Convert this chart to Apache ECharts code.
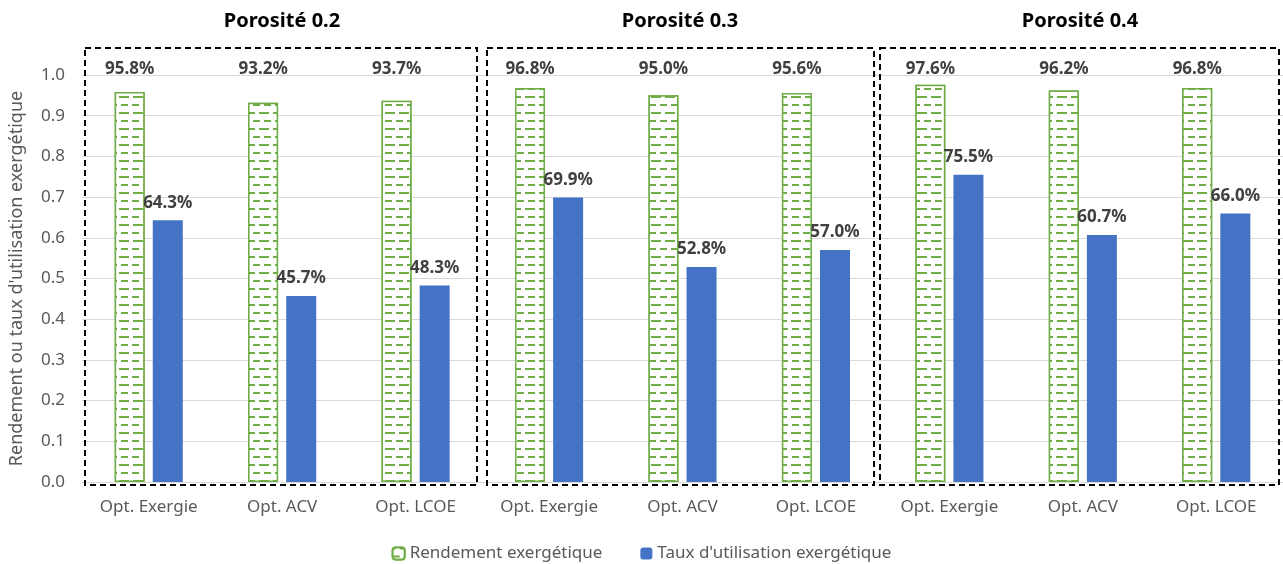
<!DOCTYPE html>
<html><head><meta charset="utf-8">
<script src="https://cdn.jsdelivr.net/npm/echarts@6/dist/echarts.min.js"></script>
<style>html,body{margin:0;padding:0;background:#fff}#c{width:1283px;height:564px}</style>
</head><body><div id="c"></div>
<script>
const categories = ['Opt. Exergie','Opt. ACV','Opt. LCOE','Opt. Exergie','Opt. ACV','Opt. LCOE','Opt. Exergie','Opt. ACV','Opt. LCOE'];
const rendement = [0.958,0.932,0.937,0.968,0.950,0.956,0.976,0.962,0.968];
const taux = [0.643,0.457,0.483,0.699,0.528,0.570,0.755,0.607,0.660];
const groupTitles = ['Porosité 0.2','Porosité 0.3','Porosité 0.4'];
const yTicks = [0,0.1,0.2,0.3,0.4,0.5,0.6,0.7,0.8,0.9,1.0];

const FONT = 'Noto Sans';
const GREEN = '#70ad47', BLUE = '#4472c4';
const pct = v => (v*100).toFixed(1) + '%';

const chart = echarts.init(document.getElementById('c'), null, {renderer:'canvas'});
const boxes = [[85,48,392,437],[487,48,387,437],[880,48,399,437]];
const titleX = [282,680,1080];

const option = {
  animation:false,
  textStyle:{fontFamily:FONT},
  grid:{left:81,right:0,top:75,bottom:82},
  legend:{
    bottom:-3, left:'center', itemWidth:12, itemHeight:12, itemGap:38,
    textStyle:{color:'#595959',fontSize:17,fontFamily:FONT},
    data:['Rendement exergétique',"Taux d'utilisation exergétique"]
  },
  xAxis:{
    type:'category', data:categories,
    axisLine:{lineStyle:{color:'#d9d9d9'}}, axisTick:{show:false},
    axisLabel:{color:'#595959',fontSize:17,margin:17,interval:0}
  },
  yAxis:{
    type:'value', min:0, max:1.0, interval:0.1,
    name:"Rendement ou taux d'utilisation exergétique", nameLocation:'middle', nameGap:56,
    nameTextStyle:{color:'#595959',fontSize:18},
    axisLabel:{color:'#595959',fontSize:17,margin:17,formatter:v=>v.toFixed(1)},
    splitLine:{lineStyle:{color:'#d9d9d9',width:1}},
    axisLine:{show:false}, axisTick:{show:false}
  },
  series:[
    {name:'Rendement exergétique', type:'bar', data:rendement, barWidth:30, barGap:'27%',
     itemStyle:{color:'#fff', borderColor:GREEN, borderWidth:1.5,
       decal:{symbol:'rect', symbolSize:1, color:GREEN, backgroundColor:'#ffffff',
              dashArrayX:[[7,4],[3,4,7,0]], dashArrayY:[1.5,5.5], rotation:0}}
    },
    {name:"Taux d'utilisation exergétique", type:'bar', data:taux, barWidth:30,
     itemStyle:{color:BLUE},
     label:{show:true, position:'top', distance:9, color:'#404040', fontSize:17, fontWeight:'bold', formatter:p=>pct(p.value)}
    },
    {name:'lbl', type:'scatter', data:rendement.map(()=>1.0), symbolSize:0, clip:false, silent:true,
     itemStyle:{opacity:1},
     label:{show:true, position:'top', distance:-3, offset:[-19,0], color:'#404040', fontSize:17, fontWeight:'bold',
       formatter:p=>pct(rendement[p.dataIndex])}
    }
  ],
  graphic: boxes.map(b=>({type:'rect', shape:{x:b[0],y:b[1],width:b[2],height:b[3]},
      style:{fill:null, stroke:'#000', lineWidth:2, lineDash:[6,4]}, z:100}))
    .concat(groupTitles.map((t,i)=>({type:'text', x:titleX[i], y:21,
      style:{text:t, textAlign:'center', textVerticalAlign:'middle', font:'bold 20px "'+FONT+'"', fill:'#000'}, z:100})))
};
chart.setOption(option);
</script></body></html>
